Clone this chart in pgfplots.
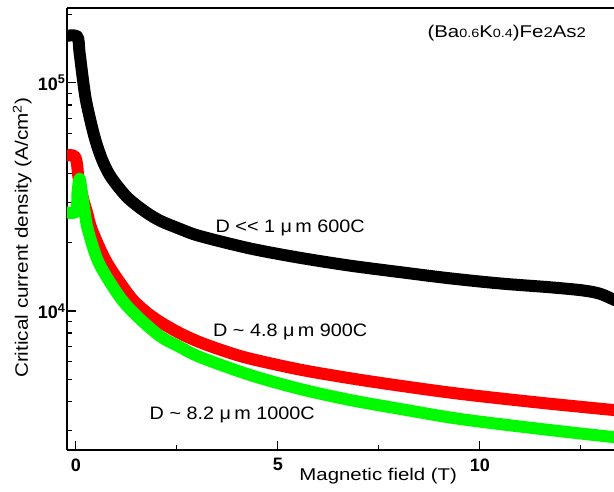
\documentclass[border=0pt]{standalone}
\usepackage{graphicx}
\usepackage{pgfplots}
\pgfplotsset{compat=1.18}
\usepackage{fontspec}
\setmainfont{Liberation Sans}
\definecolor{cgreen}{RGB}{0,250,0}
\definecolor{cred}{RGB}{255,0,0}

\begin{document}
\begin{tikzpicture}[x=1pt,y=1pt]
\begin{axis}[
  at={(0,0)}, anchor=south west,
  scale only axis, width=547pt, height=442pt,
  xmin=-0.22, xmax=13.32,
  ymode=log, ymin=2456, ymax=2.13e5,
  axis x line*=box, axis y line*=left,
  xtick={0,5,10}, xticklabels={0,5,10},
  minor xtick={2.5,7.5,12.5},
  ytick={1e4,1e5}, yticklabels={10\textsuperscript{4},10\textsuperscript{5}},
  minor ytick={3000,4000,5000,6000,7000,8000,9000,20000,30000,40000,50000,60000,70000,80000,90000,200000},
  tick pos=left, tick align=inside,
  major tick length=9pt, minor tick length=5pt,
  every tick/.style={black, line width=1.2pt},
  axis line style={line width=1.6pt},
  tick label style={font=\fontsize{18}{18}\selectfont\bfseries},
  xticklabel style={yshift=-5pt},
  yticklabel style={xshift=2pt},
  xlabel={\scalebox{1.2}[1]{Magnetic field (T)}},
  ylabel={\scalebox{1.15}[1]{Critical current density (A/cm\textsuperscript{2})}},
  every axis x label/.style={at={(axis description cs:0.569,-0.059)},anchor=center,font=\fontsize{17}{17}\selectfont},
  every axis y label/.style={at={(axis description cs:-0.082,0.48)},rotate=90,anchor=center,font=\fontsize{18}{18}\selectfont},
  clip=true,
]
\addplot[black, line width=12pt, line join=round, smooth, tension=0.5] coordinates {
 (-0.3,1.6e5) (0.03,1.6e5) (0.09,1.36e5) (0.17,1.05e5) (0.26,8.2e4) (0.46,5.8e4)
 (0.65,4.6e4) (0.866,3.87e4) (1.262,3.16e4) (1.708,2.73e4) (2.079,2.49e4)
 (2.574,2.29e4) (3.069,2.13e4) (4.307,1.88e4) (5.545,1.71e4) (6.782,1.58e4)
 (8.02,1.48e4) (9.257,1.39e4) (10.495,1.32e4) (11.733,1.27e4) (12.55,1.23e4)
 (12.97,1.19e4) (13.32,1.12e4) (13.5,1.09e4)
};
\addplot[cred, line width=12pt, line join=round, smooth, tension=0.5] coordinates {
 (-0.3,4.8e4) (-0.05,4.8e4) (0.02,4.5e4) (0.06,3.9e4) (0.12,3.4e4) (0.2,3.0e4)
 (0.28,2.69e4) (0.4,2.26e4) (0.767,1.63e4) (1.337,1.16e4) (1.708,1.0e4)
 (2.079,8.96e3) (2.574,7.99e3) (3.069,7.29e3) (3.688,6.66e3) (4.307,6.18e3)
 (5.545,5.53e3) (6.782,5.07e3) (8.02,4.70e3) (9.505,4.33e3) (11.485,3.96e3)
 (13.29,3.68e3) (13.96,3.59e3)
};
\addplot[cgreen, line width=12pt, line join=round, smooth, tension=0.5] coordinates {
 (-0.3,2.72e4) (0.0,2.72e4) (0.04,3.3e4) (0.09,3.8e4) (0.15,3.3e4) (0.22,2.7e4)
 (0.3,2.26e4) (0.57,1.62e4) (1.089,1.15e4) (1.51,9.5e3) (2.079,7.76e3)
 (2.574,6.95e3) (3.069,6.28e3) (4.307,5.24e3) (5.545,4.55e3) (6.782,4.07e3)
 (8.02,3.72e3) (9.505,3.36e3) (11.485,3.04e3) (13.29,2.80e3) (13.9,2.74e3)
};
\node[font=\fontsize{17}{17}\selectfont] at (rel axis cs:0.804,0.944)
  {\scalebox{1.2}[1]{(Ba{\fontsize{12}{12}\selectfont0.6}K{\fontsize{12}{12}\selectfont0.4})Fe{\fontsize{14}{14}\selectfont2}As{\fontsize{14}{14}\selectfont2}}};
\node[font=\fontsize{18}{18}\selectfont] at (rel axis cs:0.408,0.502)
  {\scalebox{1.1}[1]{D <{}< 1 μ\,m 600C}};
\node[font=\fontsize{18}{18}\selectfont] at (rel axis cs:0.408,0.267)
  {\scalebox{1.1}[1]{D \textasciitilde\ 4.8 μ\,m 900C}};
\node[font=\fontsize{18}{18}\selectfont] at (rel axis cs:0.302,0.079)
  {\scalebox{1.1}[1]{D \textasciitilde\ 8.2 μ\,m 1000C}};
\end{axis}
\pgfresetboundingbox
\useasboundingbox (-67,-41) rectangle (547,450);
\end{tikzpicture}
\end{document}
